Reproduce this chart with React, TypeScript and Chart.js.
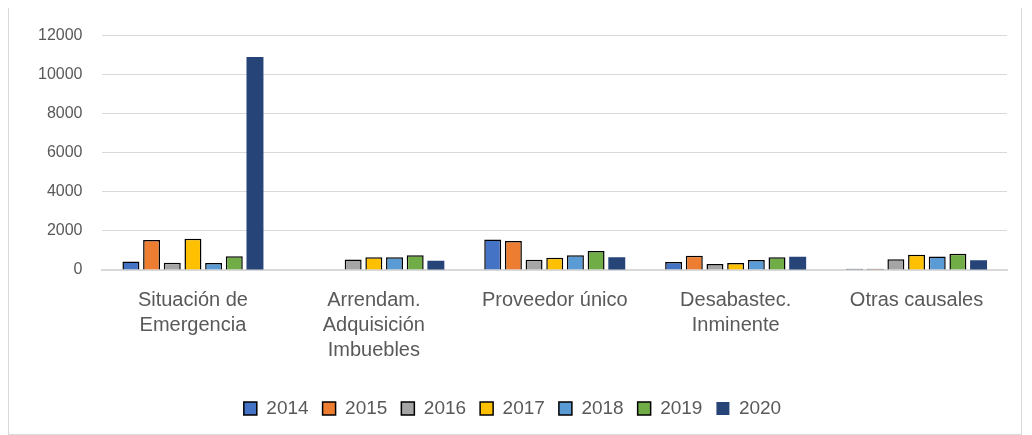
import React, { useEffect, useRef } from "react";
import { Chart, registerables } from "chart.js";

Chart.register(...registerables);

const categories: (string | string[])[] = [
  ["Situación de", "Emergencia"],
  ["Arrendam.", "Adquisición", "Imbuebles"],
  "Proveedor único",
  ["Desabastec.", "Inminente"],
  "Otras causales",
];

const seriesNames = ["2014", "2015", "2016", "2017", "2018", "2019", "2020"];
const v2014 = [440, 0, 1560, 410, 60];
const v2015 = [1530, 0, 1490, 730, 60];
const v2016 = [370, 540, 530, 310, 550];
const v2017 = [1600, 650, 630, 360, 780];
const v2018 = [360, 650, 750, 510, 690];
const v2019 = [700, 760, 970, 650, 830];
const v2020 = [10900, 470, 650, 680, 500];
const seriesValues = [v2014, v2015, v2016, v2017, v2018, v2019, v2020];
const colors = ["#4472C4", "#ED7D31", "#A5A5A5", "#FFC000", "#5B9BD5", "#70AD47", "#264478"];
const yTicks = [0, 2000, 4000, 6000, 8000, 10000, 12000];

export default function App() {
  const ref = useRef<HTMLCanvasElement | null>(null);
  useEffect(() => {
    if (!ref.current) return;
    const family = "'Liberation Sans', 'DejaVu Sans', sans-serif";
    const chart = new Chart(ref.current, {
      type: "bar",
      data: {
        labels: categories,
        datasets: seriesNames.map((name, i) => ({
          label: name,
          data: seriesValues[i],
          backgroundColor: colors[i],
          borderColor: i === 6 ? colors[i] : "#000000",
          borderWidth: i === 6 ? 0 : 1.5,
          barPercentage: 0.82,
          categoryPercentage: 0.8,
        })),
      },
      options: {
        animation: false,
        responsive: false,
        maintainAspectRatio: false,
        layout: { padding: { left: 9, right: 14, top: 20, bottom: 6 } },
        plugins: {
          tooltip: { enabled: false },
          legend: {
            position: "bottom",
            labels: {
              color: "#595959",
              font: { family, size: 19 },
              boxWidth: 13,
              boxHeight: 13,
              padding: 14,
            },
          },
        },
        scales: {
          x: {
            grid: { display: false },
            border: { color: "#d9d9d9", width: 2 },
            ticks: {
              color: "#595959",
              font: { family, size: 20, lineHeight: 1.25 },
              maxRotation: 0,
              autoSkip: false,
              padding: 10,
            },
            afterFit: (s: any) => {
              s.height += 12;
            },
          },
          y: {
            min: 0,
            max: 12000,
            afterBuildTicks: (axis: any) => {
              axis.ticks = yTicks.map((v) => ({ value: v }));
            },
            grid: { color: "#d9d9d9", drawTicks: false },
            border: { display: false },
            ticks: {
              color: "#595959",
              font: { family, size: 16 },
              padding: 20,
              callback: (v: any) => String(v),
            },
          },
        },
      },
    });
    return () => chart.destroy();
  }, []);
  return (
    <div
      style={{
        width: 1012,
        height: 428,
        border: "1px solid #d9d9d9",
        marginTop: -3,
        boxSizing: "content-box",
      }}
    >
      <canvas ref={ref} width={1012} height={428} style={{ display: "block" }} />
    </div>
  );
}
